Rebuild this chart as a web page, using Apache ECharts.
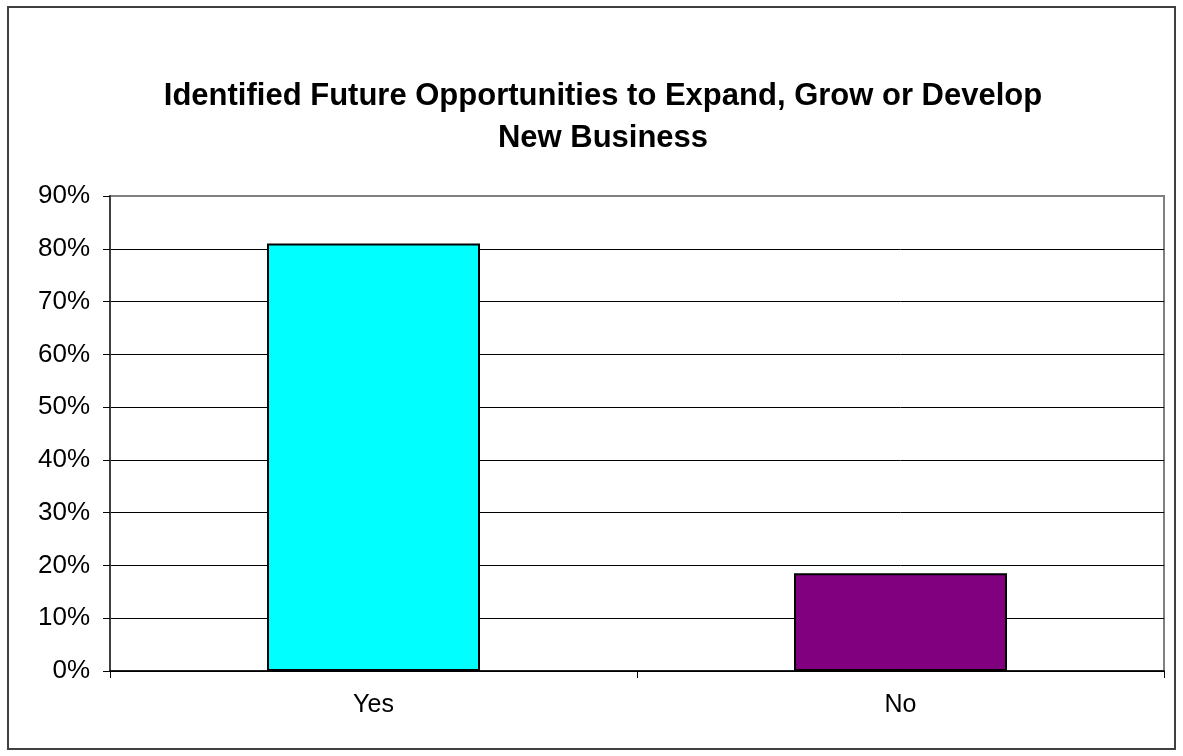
<!DOCTYPE html>
<html>
<head>
<meta charset="utf-8">
<script src="https://cdn.jsdelivr.net/npm/echarts@6/dist/echarts.min.js"></script>
<style>
  html, body { margin: 0; padding: 0; background: #fff; }
  #chart { width: 1183px; height: 756px; }
</style>
</head>
<body>
<div id="chart"></div>
<script>
  var categories = ["Yes", "No"];
  var shares = [81, 18.5];
  var barColors = ["#00ffff", "#800080"];
  var titleText = "Identified Future Opportunities to Expand, Grow or Develop\nNew Business";

  var myChart = echarts.init(document.getElementById("chart"));
  var font = "'Liberation Sans', Arial, sans-serif";

  // gridlines black, top one is the grey plot border
  var gridColors = [];
  for (var i = 0; i < 9; i++) gridColors.push("#000");
  gridColors.push("#808080");

  myChart.setOption({
    backgroundColor: "#fff",
    animation: false,
    title: {
      text: titleText,
      left: 598,
      top: 70,
      textAlign: "center",
      textStyle: {
        fontFamily: font,
        fontSize: 31,
        fontWeight: "bold",
        color: "#000",
        lineHeight: 42,
      },
    },
    graphic: [
      {
        type: "rect",
        shape: { x: 8, y: 7, width: 1167, height: 742 },
        style: { fill: null, stroke: "#404040", lineWidth: 2 },
        silent: true,
      },
    ],
    grid: {
      left: 110,
      right: 19,
      top: 196,
      bottom: 85,
      show: true,
      borderColor: "#808080",
      borderWidth: 2,
    },
    xAxis: {
      type: "category",
      data: categories,
      boundaryGap: true,
      axisLine: { lineStyle: { color: "#000", width: 1.5 } },
      axisTick: { show: true, length: 7, lineStyle: { color: "#000" } },
      axisLabel: { fontFamily: font, fontSize: 25, color: "#000", margin: 22 },
    },
    yAxis: {
      type: "value",
      min: 0,
      max: 90,
      interval: 10,
      axisLine: { show: true, lineStyle: { color: "#404040", width: 2 } },
      axisTick: { show: true, length: 7, lineStyle: { color: "#000" } },
      axisLabel: {
        formatter: "{value}%",
        fontFamily: font,
        fontSize: 26,
        color: "#000",
        margin: 20,
      },
      splitLine: { show: true, lineStyle: { color: gridColors, width: 1 } },
    },
    series: [
      {
        type: "bar",
        barWidth: 213,
        data: shares.map(function (v, i) {
          return {
            value: v,
            itemStyle: { color: barColors[i], borderColor: "#000", borderWidth: 2 },
          };
        }),
      },
    ],
  });
</script>
</body>
</html>
